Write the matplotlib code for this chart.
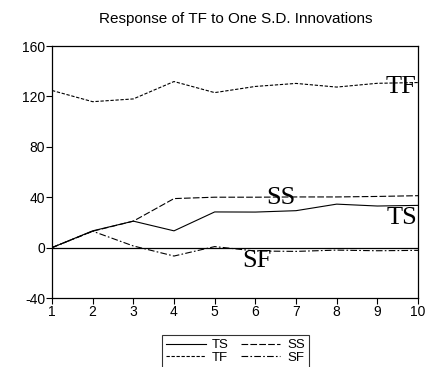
import matplotlib.pyplot as plt

plt.rcParams['axes.unicode_minus'] = False

periods = [1, 2, 3, 4, 5, 6, 7, 8, 9, 10]
ts = [0, 13.3, 21, 13.3, 28.3, 28.2, 29.3, 34.5, 33, 33.5]
ss = [0, 13, 21, 38.9, 40, 40, 40.2, 40.2, 40.6, 41.2]
tf = [124.7, 115.8, 118, 131.8, 123, 127.9, 130.3, 127.4, 130.4, 131]
sf = [0, 13, 1.3, -6.7, 0.8, -2.7, -3, -2, -2.5, -2.2]

fig = plt.figure(figsize=(4.27, 3.67), dpi=100)
ax = fig.add_axes([52 / 427, 1 - 298 / 367, 366 / 427, 252 / 367])

# reference line at zero
ax.axhline(0, color='black', linewidth=0.9)

lw = 0.8
l_ts, = ax.plot(periods, ts, color='black', linewidth=lw, linestyle='-')
l_ss, = ax.plot(periods, ss, color='black', linewidth=lw, linestyle=(0, (6, 2)))
l_tf, = ax.plot(periods, tf, color='black', linewidth=lw, linestyle=(0, (3, 1.5)))
l_sf, = ax.plot(periods, sf, color='black', linewidth=lw, linestyle=(0, (6, 2, 1.5, 2)))

# series labels drawn inside the plot
serif = 'Liberation Serif'
ax.text(9.2, 122.9, 'TF', family=serif, fontsize=19, ha='left', va='baseline')
ax.text(6.28, 34.4, 'SS', family=serif, fontsize=19, ha='left', va='baseline')
ax.text(9.23, 18.6, 'TS', family=serif, fontsize=19, ha='left', va='baseline')
ax.text(5.68, -15.5, 'SF', family=serif, fontsize=19, ha='left', va='baseline')

ax.set_xlim(1, 10)
ax.set_ylim(-40, 160)
ax.set_xticks(periods)
ax.set_yticks([-40, 0, 40, 80, 120, 160])
ax.tick_params(direction='out', length=4, width=0.8, labelsize=10, pad=1)
for lab in ax.get_xticklabels() + ax.get_yticklabels():
    lab.set_family('Liberation Sans')
for s in ax.spines.values():
    s.set_linewidth(0.9)

fig.text(236 / 427, 1 - 19 / 367, 'Response of TF to One S.D. Innovations',
         family='Liberation Sans', fontsize=11, ha='center', va='center')

# legend rows: TS SS / TF SF (ncol fills by column)
leg = fig.legend([l_ts, l_tf, l_ss, l_sf], ['TS', 'TF', 'SS', 'SF'],
                 loc='upper left', bbox_to_anchor=(162 / 427, 1 - 335 / 367),
                 borderaxespad=0,
                 ncol=2, frameon=True, fancybox=False,
                 edgecolor='black', handlelength=3.0, handletextpad=0.5,
                 columnspacing=0.9, borderpad=0.3, labelspacing=0.05,
                 prop={'family': 'Liberation Sans', 'size': 9.5})
leg.get_frame().set_linewidth(0.8)

fig.savefig('out.png', dpi=100)
